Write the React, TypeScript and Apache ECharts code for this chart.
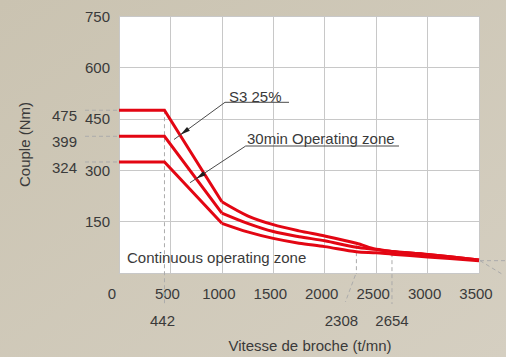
import React, { useEffect, useRef } from "react";
import * as echarts from "echarts";

// Spindle speed (t/mn) at which each torque curve is sampled
const speeds = [0, 442, 1000, 1250, 1500, 1750, 2000, 2308, 2500, 2654, 3000, 3500];
// Torque (Nm) for each duty zone
const s3Torque = [475, 475, 208, 167, 141, 123, 108, 87, 69, 63, 54, 38];
const min30Torque = [399, 399, 175, 145, 121, 106, 94, 75, 69, 63, 54, 38];
const contTorque = [324, 324, 145, 120, 101, 87, 77, 62, 59, 55, 47, 36];

// Highlighted values shown beside the axes
const torqueMarks = [475, 399, 324];
const speedMarks = [442, 2308, 2654];

const FONT = '"Liberation Sans", Arial, Helvetica, sans-serif';
const TEXT = "#3a3a3a";
const GRID = "#c8c8c8";
const DASH = "#ababab";
const RED = "#e30613";

// index where the constant-power curve starts (1000 t/mn)
const CURVE_START = speeds.indexOf(1000);

const pairs = (ys: number[]) => speeds.map((x, i) => [x, ys[i]]);

export default function App() {
  const ref = useRef<HTMLDivElement>(null);

  useEffect(() => {
    if (!ref.current) return;
    const chart = echarts.init(ref.current, null, { renderer: "svg" });

    // Each curve: straight part up to 1000 t/mn, smoothed part after it
    const curve = (name: string, ys: number[]) => {
      const pts = pairs(ys);
      return [
        {
          name,
          type: "line",
          data: pts.slice(0, CURVE_START + 1),
          symbol: "none",
          lineStyle: { color: RED, width: 3, join: "miter" },
          itemStyle: { color: RED },
          z: 3,
        },
        {
          name,
          type: "line",
          data: pts.slice(CURVE_START),
          symbol: "none",
          smooth: 0.3,
          lineStyle: { color: RED, width: 3 },
          itemStyle: { color: RED },
          z: 3,
        },
      ];
    };

    chart.setOption({
      animation: false,
      backgroundColor: {
        type: "linear",
        x: 0,
        y: 0,
        x2: 1,
        y2: 1,
        colorStops: [
          { offset: 0, color: "#cac3b1" },
          { offset: 1, color: "#d5cfc1" },
        ],
      },
      textStyle: { fontFamily: FONT },
      grid: {
        left: 119,
        top: 16,
        width: 360,
        height: 257,
        show: true,
        backgroundColor: "#ffffff",
        borderWidth: 0,
      },
      xAxis: {
        type: "value",
        min: 0,
        max: 3500,
        interval: 500,
        axisLine: { show: true, lineStyle: { color: GRID } },
        axisTick: { show: false },
        splitLine: { show: true, lineStyle: { color: GRID, width: 1 } },
        axisLabel: {
          margin: 13,
          fontSize: 15,
          color: TEXT,
          fontFamily: FONT,
          padding: [0, 6, 0, 0],
          formatter: (v: number) => (v === 0 ? "{z|0}" : String(v)),
          rich: { z: { fontSize: 15, color: TEXT, fontFamily: FONT, padding: [0, 8, 0, 0] } },
        },
      },
      yAxis: {
        type: "value",
        min: 0,
        max: 750,
        interval: 150,
        name: "Couple (Nm)",
        nameLocation: "middle",
        nameGap: 87,
        nameTextStyle: { fontSize: 15, color: TEXT, fontFamily: FONT },
        axisLine: { show: true, lineStyle: { color: GRID } },
        axisTick: { show: false },
        splitLine: { show: true, lineStyle: { color: GRID, width: 1 } },
        axisLabel: {
          margin: 9,
          fontSize: 15,
          color: TEXT,
          fontFamily: FONT,
          padding: [11, 0, 0, 0],
          showMinLabel: false,
        },
      },
      series: [
        ...curve("Continuous operating zone", contTorque),
        ...curve("30min Operating zone", min30Torque),
        ...curve("S3 25%", s3Torque),
      ],
    });

    const px = (x: number, y: number) =>
      chart.convertToPixel({ gridIndex: 0 }, [x, y]) as number[];
    const [left, bottom] = px(0, 0);

    const g: any[] = [];
    const dashed = (x1: number, y1: number, x2: number, y2: number) =>
      g.push({
        type: "line",
        silent: true,
        z: 2,
        shape: { x1, y1, x2, y2 },
        style: { stroke: DASH, lineWidth: 1, lineDash: [4, 3] },
      });
    const label = (text: string, x: number, y: number, align: string) =>
      g.push({
        type: "text",
        silent: true,
        z: 5,
        x,
        y,
        style: { text, fill: TEXT, fontSize: 15, fontFamily: FONT, align, verticalAlign: "middle" },
      });

    // Torque levels on the left
    torqueMarks.forEach((t) => {
      const [, y] = px(0, t);
      dashed(85, y, left, y);
      label(String(t), 77, y + 5.5, "right");
    });

    // Base speed and corner speeds under the axis
    const [x442, y442] = px(speedMarks[0], s3Torque[1]);
    dashed(x442, y442, x442, 304);
    label(String(speedMarks[0]), x442 - 2, 320, "center");

    const [x2308, y2308] = px(speedMarks[1], s3Torque[speeds.indexOf(2308)]);
    dashed(x2308, y2308 + 2, x2308, bottom + 1);
    dashed(x2308 - 1, bottom + 2, x2308 - 11, 302);
    label(String(speedMarks[1]), x2308 - 15, 320, "center");

    const [x2654, y2654] = px(speedMarks[2], contTorque[speeds.indexOf(2654)]);
    dashed(x2654, y2654 - 1, x2654, 304);
    label(String(speedMarks[2]), x2654, 320, "center");

    // Continuation beyond max speed
    const [xEnd, yEnd] = px(3500, contTorque[contTorque.length - 1]);
    dashed(xEnd + 1, yEnd, 506, yEnd);
    dashed(xEnd + 1, yEnd, 503, yEnd + 14);

    // Axis title
    label("Vitesse de broche (t/mn)", 310, 345, "center");

    // Zone annotations
    label("Continuous operating zone", 127, 257.5, "left");
    label("S3 25%", 229, 96, "left");
    label("30min Operating zone", 247, 138.5, "left");

    const leader = (
      sx: number, sy: number, ux: number,
      ex: number, ey: number, tx: number, ty: number
    ) => {
      g.push({
        type: "polyline",
        silent: true,
        z: 6,
        shape: { points: [[ux, sy], [sx, sy], [ex, ey]] },
        style: { stroke: "#4a4a4a", lineWidth: 1, fill: null },
      });
      const dx = ex - sx;
      const dy = ey - sy;
      const len = Math.hypot(dx, dy);
      const ux1 = dx / len;
      const uy1 = dy / len;
      const bx = tx - ux1 * 10;
      const by = ty - uy1 * 10;
      const w = 2.4;
      g.push({
        type: "polygon",
        silent: true,
        z: 7,
        shape: {
          points: [
            [tx, ty],
            [bx - uy1 * w, by + ux1 * w],
            [bx + uy1 * w, by - ux1 * w],
          ],
        },
        style: { fill: "#1e1e1e" },
      });
    };
    leader(225, 102.3, 289, 174, 139.5, 180.4, 134.8);
    leader(245.7, 146, 399, 190, 182.7, 196.1, 178.7);

    chart.setOption({ graphic: g });

    return () => chart.dispose();
  }, []);

  return (
    <div
      ref={ref}
      style={{ position: "fixed", left: 0, top: 0, width: 506, height: 357 }}
    />
  );
}
